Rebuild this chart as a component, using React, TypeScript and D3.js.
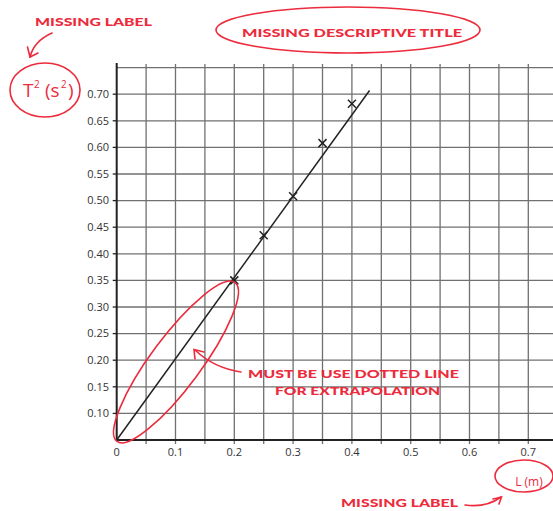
import React from "react";
import * as d3 from "d3";

const xTickValues = [0, 0.1, 0.2, 0.3, 0.4, 0.5, 0.6, 0.7];
const xTickLabels = ["0", "0.1", "0.2", "0.3", "0.4", "0.5", "0.6", "0.7"];
const yTickValues = [0.1, 0.15, 0.2, 0.25, 0.3, 0.35, 0.4, 0.45, 0.5, 0.55, 0.6, 0.65, 0.7];
const yTickLabels = ["0.10", "0.15", "0.20", "0.25", "0.30", "0.35", "0.40", "0.45", "0.50", "0.55", "0.60", "0.65", "0.70"];
const gridX = [0.05, 0.1, 0.15, 0.2, 0.25, 0.3, 0.35, 0.4, 0.45, 0.5, 0.55, 0.6, 0.65, 0.7];
const gridY = [0.1, 0.15, 0.2, 0.25, 0.3, 0.35, 0.4, 0.45, 0.5, 0.55, 0.6, 0.65, 0.7, 0.75];
const lengthM = [0.2, 0.25, 0.3, 0.35, 0.4];
const periodSq = [0.35, 0.435, 0.508, 0.608, 0.682];
const fitLength = [0, 0.43];
const fitPeriodSq = [0.05, 0.707];

const RED = "#ec2b3c";
const W = 553;
const H = 511;

export default function App() {
  const x = d3.scaleLinear().domain([0, 0.75]).range([116.7, 557.7]);
  const y = d3.scaleLinear().domain([0.05, 0.75]).range([440, 67.6]);
  const line = d3
    .line<number>()
    .x((_, i) => x(fitLength[i]))
    .y((d) => y(d));

  const comic = {
    fontFamily: "Lato, 'DejaVu Sans', sans-serif",
    fontWeight: 900 as const,
    fill: RED,
    fontSize: 12,
  };
  const labelFont = {
    fontFamily: "'Open Sans', sans-serif",
    fill: RED,
  };

  return (
    <svg
      width={W}
      height={H}
      style={{ position: "absolute", left: 0, top: 0, background: "#fff" }}
    >
      {/* grid */}
      <g stroke="#707070" strokeWidth={1.3}>
        {gridY.map((v) => (
          <line key={"gy" + v} x1={x(0)} x2={W} y1={y(v)} y2={y(v)} />
        ))}
        {gridX.map((v) => (
          <line key={"gx" + v} x1={x(v)} x2={x(v)} y1={64} y2={444} />
        ))}
      </g>
      {/* axes */}
      <g stroke="#222" strokeWidth={2}>
        <line x1={x(0)} x2={x(0)} y1={63} y2={441} />
        <line x1={x(0)} x2={W} y1={y(0.05)} y2={y(0.05)} />
        {yTickValues.map((v) => (
          <line key={"yt" + v} x1={x(0) - 4} x2={x(0)} y1={y(v)} y2={y(v)} strokeWidth={1.3} />
        ))}
      </g>
      {/* tick labels */}
      <g fontFamily="'Open Sans', sans-serif" fontSize={11} fill="#333">
        {yTickValues.map((v, i) => (
          <text key={"yl" + v} x={109} y={y(v)} dy="0.35em" textAnchor="end">
            {yTickLabels[i]}
          </text>
        ))}
        {xTickValues.map((v, i) => (
          <text key={"xl" + v} x={x(v)} y={452} dy="0.35em" textAnchor="middle">
            {xTickLabels[i]}
          </text>
        ))}
      </g>
      {/* best fit line */}
      <path d={line(fitPeriodSq) || ""} fill="none" stroke="#222" strokeWidth={1.5} />
      {/* data crosses */}
      <g stroke="#222" strokeWidth={1.5}>
        {lengthM.map((l, i) => {
          const cx = x(l);
          const cy = y(periodSq[i]);
          const s = 4;
          return (
            <g key={"p" + i}>
              <line x1={cx - s} y1={cy - s} x2={cx + s} y2={cy + s} />
              <line x1={cx - s} y1={cy + s} x2={cx + s} y2={cy - s} />
            </g>
          );
        })}
      </g>

      {/* red annotations */}
      <g fill="none" stroke={RED} strokeWidth={1.6} strokeLinecap="round">
        <ellipse cx={348} cy={30} rx={132} ry={23} />
        <ellipse cx={45} cy={90} rx={35} ry={27} />
        <ellipse cx={176} cy={362} rx={99} ry={25} transform="rotate(-53.4 176 362)" />
        <ellipse cx={524} cy={476} rx={29} ry={16} />
        <path d="M52,33 Q34,41 30,57" />
        <path d="M27.5,47 L30,57 L38,53" />
        <path d="M241,372 Q214,368 195,350" />
        <path d="M195,359 L194,349.5 L204,352" />
        <path d="M465,505 Q486,508 501,497" />
        <path d="M493,499 L501.5,497 L499,504" />
      </g>
      <text {...comic} x={35} y={22} dy="0.35em" textLength={117} lengthAdjust="spacingAndGlyphs">
        MISSING LABEL
      </text>
      <text {...comic} x={242} y={32.5} dy="0.35em" textLength={220} lengthAdjust="spacingAndGlyphs">
        MISSING DESCRIPTIVE TITLE
      </text>
      <text {...comic} x={248} y={373.5} dy="0.35em" textLength={211} lengthAdjust="spacingAndGlyphs">
        MUST BE USE DOTTED LINE
      </text>
      <text {...comic} x={275} y={391} dy="0.35em" textLength={165} lengthAdjust="spacingAndGlyphs">
        FOR EXTRAPOLATION
      </text>
      <text {...comic} x={341} y={503} dy="0.35em" textLength={117} lengthAdjust="spacingAndGlyphs">
        MISSING LABEL
      </text>
      {/* y axis label T² (s²) */}
      <text {...labelFont} x={23} y={97} fontSize={19}>T</text>
      <text {...labelFont} x={34} y={88} fontSize={10}>2</text>
      <text {...labelFont} x={45} y={97} fontSize={19}>(s</text>
      <text {...labelFont} x={61} y={88} fontSize={10}>2</text>
      <text {...labelFont} x={68} y={97} fontSize={19}>)</text>
      <text {...labelFont} x={529} y={482} dy="0.35em" fontSize={12} textAnchor="middle">
        L (m)
      </text>
    </svg>
  );
}
